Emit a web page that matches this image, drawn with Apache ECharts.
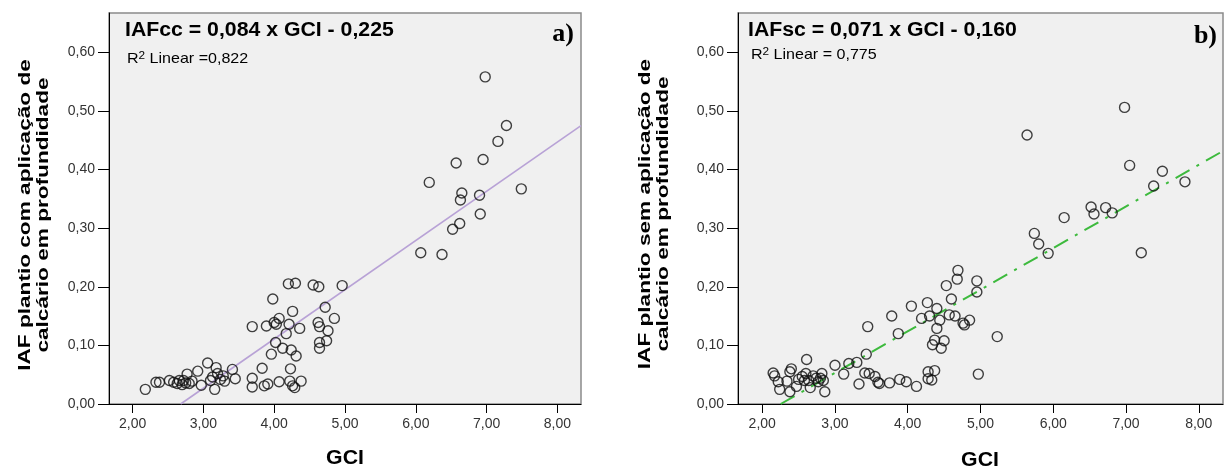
<!DOCTYPE html>
<html>
<head>
<meta charset="utf-8">
<script src="https://cdn.jsdelivr.net/npm/echarts@6/dist/echarts.min.js"></script>
<style>html,body{margin:0;padding:0;background:#fff}#c{width:1228px;height:472px}</style>
</head>
<body>
<div id="c"></div>
<script>
// ---- data ----
const xTicks = [2, 3, 4, 5, 6, 7, 8];
const yTicks = [0, 0.1, 0.2, 0.3, 0.4, 0.5, 0.6];
const xRange = [1.667, 8.333];
const yRange = [0, 0.667];

// panel a) IAF com aplicação de calcário (GCI, IAF)
const dataCc = [
  [2.18,0.025],[2.33,0.037],[2.38,0.037],[2.52,0.040],[2.58,0.037],[2.63,0.035],[2.66,0.040],[2.70,0.033],
  [2.72,0.040],[2.75,0.036],[2.77,0.051],[2.80,0.035],[2.84,0.039],[2.92,0.056],[2.97,0.032],[3.06,0.070],
  [3.10,0.040],[3.13,0.046],[3.16,0.025],[3.18,0.062],[3.20,0.052],[3.24,0.042],[3.28,0.048],[3.30,0.039],
  [3.41,0.059],[3.45,0.043],
  [3.69,0.132],[3.69,0.044],[3.69,0.029],[3.83,0.061],[3.86,0.031],[3.91,0.034],[3.89,0.133],[3.96,0.085],
  [3.98,0.179],[4.00,0.139],[4.03,0.136],[4.07,0.146],[4.02,0.105],[4.07,0.038],[4.12,0.095],[4.17,0.120],
  [4.20,0.205],[4.21,0.136],[4.22,0.039],[4.23,0.060],[4.24,0.092],[4.26,0.158],[4.26,0.031],[4.29,0.028],
  [4.30,0.206],[4.31,0.082],[4.36,0.129],[4.38,0.039],[4.55,0.203],[4.63,0.200],[4.62,0.139],[4.64,0.132],
  [4.64,0.105],[4.64,0.095],[4.72,0.165],[4.74,0.108],[4.76,0.125],[4.85,0.146],[4.96,0.202],
  [6.07,0.258],[6.19,0.378],[6.37,0.255],[6.52,0.298],[6.57,0.411],[6.62,0.308],[6.63,0.348],[6.65,0.360],
  [6.90,0.356],[6.91,0.324],[6.95,0.417],[6.98,0.558],[7.16,0.448],[7.28,0.475],[7.49,0.367]
];
// panel b) IAF sem aplicação de calcário (GCI, IAF)
const dataSc = [
  [2.15,0.053],[2.17,0.048],[2.22,0.038],[2.24,0.025],[2.34,0.039],[2.38,0.021],[2.38,0.055],[2.40,0.060],
  [2.47,0.030],[2.50,0.042],[2.55,0.047],[2.58,0.040],[2.60,0.052],[2.61,0.076],[2.64,0.040],[2.66,0.028],
  [2.70,0.048],[2.74,0.044],[2.77,0.038],[2.80,0.044],[2.82,0.052],[2.84,0.040],[2.86,0.021],[3.00,0.066],
  [3.12,0.051],[3.19,0.069],[3.30,0.071],[3.33,0.034],[3.41,0.053],[3.43,0.085],[3.45,0.132],[3.47,0.052],
  [3.55,0.047],[3.59,0.037],[3.61,0.035],[3.75,0.036],[3.78,0.150],[3.87,0.120],[3.89,0.042],[3.98,0.038],
  [4.05,0.167],[4.12,0.030],
  [4.19,0.146],[4.27,0.173],[4.28,0.055],[4.28,0.043],[4.33,0.041],[4.37,0.057],[4.30,0.150],[4.34,0.101],
  [4.37,0.109],[4.40,0.163],[4.40,0.129],[4.44,0.143],[4.46,0.095],[4.50,0.108],[4.53,0.202],[4.57,0.152],
  [4.60,0.179],[4.65,0.150],[4.68,0.213],[4.69,0.228],[4.76,0.138],[4.78,0.135],[4.85,0.143],[4.95,0.210],
  [4.95,0.191],[4.97,0.051],[5.23,0.115],
  [5.64,0.459],[5.74,0.291],[5.80,0.273],[5.93,0.257],[6.15,0.318],[6.52,0.336],[6.56,0.324],[6.72,0.335],
  [6.81,0.326],[6.98,0.506],[7.05,0.407],[7.21,0.258],[7.38,0.372],[7.50,0.397],[7.81,0.379]
];
// linear fits [slope, intercept]
const fitCc = [0.084, -0.225];
const fitSc = [0.071, -0.160];
const eqCc = 'IAFcc = 0,084 x GCI - 0,225';
const eqSc = 'IAFsc = 0,071 x GCI - 0,160';
const r2Cc = 'R{s|2} Linear =0,822';
const r2Sc = 'R{s|2} Linear = 0,775';
const yTitleCc = 'IAF plantio com aplicação de\ncalcário em profundidade';
const yTitleSc = 'IAF plantio sem aplicação de\ncalcário em profundidade';
const xTitle = 'GCI';

// ---- chart ----
function fitLine(f) {
  const x0 = Math.max(xRange[0], -f[1] / f[0]);
  return [[x0, f[0] * x0 + f[1]], [xRange[1], f[0] * xRange[1] + f[1]]];
}
const fmt = v => v.toFixed(2).replace('.', ',');
const FF = '"Liberation Sans", Arial, sans-serif';

function xAx(g) {
  return {
    gridIndex: g, type: 'value', min: xRange[0], max: xRange[1],
    axisLine: { show: true, onZero: false, lineStyle: { color: '#000', width: 1 } },
    axisTick: { show: true, customValues: xTicks, length: 9, lineStyle: { color: '#000', width: 1 } },
    axisLabel: { customValues: xTicks, formatter: fmt, fontSize: 14, color: '#333', margin: 13, fontFamily: FF },
    splitLine: { show: false }
  };
}
function yAx(g) {
  return {
    gridIndex: g, type: 'value', min: yRange[0], max: yRange[1],
    axisLine: { show: true, onZero: false, lineStyle: { color: '#000', width: 1 } },
    axisTick: { show: true, customValues: yTicks, length: 11, lineStyle: { color: '#000', width: 1 } },
    axisLabel: { customValues: yTicks, formatter: fmt, fontSize: 14, color: '#333', margin: 14, fontFamily: FF },
    splitLine: { show: false }
  };
}
function scatter(i, d) {
  return {
    type: 'scatter', xAxisIndex: i, yAxisIndex: i, data: d, symbol: 'circle', symbolSize: 10, z: 3,
    itemStyle: { color: 'rgba(0,0,0,0)', borderColor: '#111', borderWidth: 1.4 }, silent: true
  };
}
function txt(x, y, text, o) {
  const st = Object.assign({
    text: text, fill: '#000', fontSize: 15, fontFamily: FF, fontWeight: 'normal',
    align: 'left', textAlign: 'left', verticalAlign: 'middle', textVerticalAlign: 'middle'
  }, o.style || {});
  return Object.assign({ type: 'text', x: x, y: y, z: 100, style: st, silent: true }, o.el || {});
}
const bold = (sz) => ({ fontSize: sz, fontWeight: 'bold' });
const supRich = { s: { fontSize: 11, fontFamily: FF, fill: '#000', verticalAlign: 'top', lineHeight: 12 } };

const chart = echarts.init(document.getElementById('c'), null, { renderer: 'canvas' });
chart.setOption({
  animation: false,
  backgroundColor: '#fff',
  grid: [
    { left: 109, top: 13, width: 472, height: 391, show: true, backgroundColor: '#f0f0f0', borderColor: '#8a8a8a', borderWidth: 1.5 },
    { left: 738, top: 13, width: 485, height: 391, show: true, backgroundColor: '#f0f0f0', borderColor: '#8a8a8a', borderWidth: 1.5 }
  ],
  xAxis: [xAx(0), xAx(1)],
  yAxis: [yAx(0), yAx(1)],
  series: [
    { type: 'line', xAxisIndex: 0, yAxisIndex: 0, data: fitLine(fitCc), showSymbol: false, z: 2, silent: true,
      lineStyle: { color: '#b8a2d6', width: 1.6 } },
    scatter(0, dataCc),
    { type: 'line', xAxisIndex: 1, yAxisIndex: 1, data: fitLine(fitSc), showSymbol: false, z: 2, silent: true,
      lineStyle: { color: '#3dba3d', width: 2, type: [16, 8, 3, 8] } },
    scatter(1, dataSc)
  ],
  graphic: [
    txt(125, 31, eqCc, { style: bold(19.5), el: { scaleX: 1.09 } }),
    txt(127, 59, r2Cc, { style: { fontSize: 15, lineHeight: 18, rich: supRich }, el: { scaleX: 1.07 } }),
    txt(574, 34, 'a)', { style: { fontSize: 26, fontWeight: 'bold', fontFamily: '"Liberation Serif", "Times New Roman", serif', align: 'right', textAlign: 'right' } }),
    txt(748, 31, eqSc, { style: bold(19.5), el: { scaleX: 1.09 } }),
    txt(751, 55, r2Sc, { style: { fontSize: 15, lineHeight: 18, rich: supRich }, el: { scaleX: 1.07 } }),
    txt(1217, 36, 'b)', { style: { fontSize: 26, fontWeight: 'bold', fontFamily: '"Liberation Serif", "Times New Roman", serif', align: 'right', textAlign: 'right' } }),
    txt(345, 459, xTitle, { style: Object.assign(bold(19.5), { align: 'center', textAlign: 'center' }), el: { scaleX: 1.09 } }),
    txt(980, 461, xTitle, { style: Object.assign(bold(19.5), { align: 'center', textAlign: 'center' }), el: { scaleX: 1.09 } }),
    txt(34, 215, yTitleCc, { style: Object.assign(bold(17), { align: 'center', textAlign: 'center', lineHeight: 18 }), el: { rotation: Math.PI / 2, scaleX: 1.33 } }),
    txt(654, 214, yTitleSc, { style: Object.assign(bold(17), { align: 'center', textAlign: 'center', lineHeight: 18 }), el: { rotation: Math.PI / 2, scaleX: 1.33 } })
  ]
});
</script>
</body>
</html>
